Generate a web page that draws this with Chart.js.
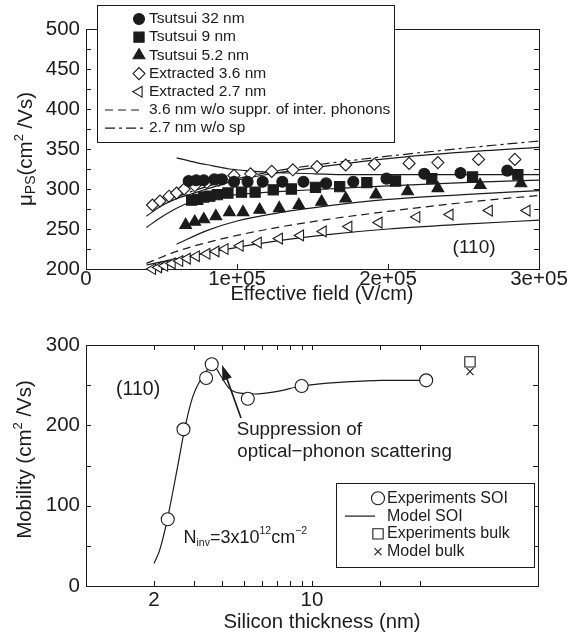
<!DOCTYPE html>
<html>
<head>
<meta charset="utf-8">
<title>Mobility</title>
<script src="https://cdn.jsdelivr.net/npm/chart.js@4.4.1/dist/chart.umd.min.js"></script>
<style>
  html, body { margin: 0; padding: 0; background: #fff; }
  #page { position: relative; width: 569px; height: 636px; overflow: hidden; }
  canvas { position: absolute; left: 0; }
  #top { top: 0; }
  #bottom { top: 305px; }
</style>
</head>
<body>
<div id="page">
  <canvas id="top" width="569" height="305"></canvas>
  <canvas id="bottom" width="569" height="331"></canvas>
</div>
<script>
// --- TOP PANEL DATA (field in 1e3 V/cm, mobility in cm2/Vs) ---
const fieldLabels = [0, 100, 200, 300];
const fieldMinor = [100, 200];
const muLabels = [200, 250, 300, 350, 400, 450, 500];
const muMinor = [225, 250, 275, 300, 325, 350, 375, 400, 425, 450, 475];

const ts32X = [68, 73, 78, 85, 90, 98, 107, 117, 130, 144, 159, 177, 199, 224, 248, 279];
const ts32Y = [310, 311, 311, 312, 312, 309, 309, 309, 309, 309, 307, 309, 313, 319, 320, 323];
const ts9X = [70, 74, 78, 82, 87, 94, 103, 112, 124, 136, 152, 168, 186, 205, 229, 256, 286];
const ts9Y = [286, 287, 290, 291, 293, 295, 296, 296, 299, 300, 302, 303, 308, 310, 313, 315, 318];
const ts52X = [66, 72, 78, 86, 95, 104, 115, 128, 141, 156, 172, 192, 213, 233, 261, 288];
const ts52Y = [255, 259, 262, 266, 271, 271, 274, 276, 280, 284, 288, 293, 297, 301, 305, 307];
const ex36X = [44, 49, 55, 60, 65, 72, 80, 88, 98, 109, 123, 137, 153, 172, 191, 214, 233, 260, 284];
const ex36Y = [280, 285, 291, 295, 300, 304, 308, 311, 317, 319, 322, 324, 328, 330, 331, 332, 333, 337, 337];
const ex27X = [44, 48, 52, 57, 62, 67, 73, 80, 86, 92, 102, 114, 128, 142, 157, 174, 194, 219, 241, 267, 292];
const ex27Y = [200, 202, 204, 207, 210, 213, 216, 219, 222, 225, 229, 233, 238, 242, 247, 253, 258, 265, 268, 273, 273];

// model curves
const m32X = [60, 73, 84, 95, 106, 120, 133, 151, 173, 217, 261, 300];
const m32Y = [339, 333, 329, 325, 323, 321, 320, 319, 318, 318, 318, 318];
const m9X = [40, 50, 60, 70, 80, 100, 130, 160, 200, 250, 300];
const m9Y = [252, 265, 276, 284, 288, 293, 297, 300, 304, 308, 311];
const m52X = [60, 80, 100, 130, 160, 200, 250, 300];
const m52Y = [231, 248, 260, 271, 279, 287, 293, 298];
const m36X = [40, 50, 60, 70, 80, 100, 130, 160, 200, 250, 300];
const m36Y = [266, 279, 288, 294, 300, 311, 321, 329, 338, 346, 352];
const m27X = [40, 60, 80, 100, 130, 160, 200, 250, 300];
const m27Y = [205, 213, 220, 227, 236, 243, 250, 256, 261];
const noSup36X = [40, 60, 80, 100, 130, 160, 200, 250, 300];
const noSup36Y = [207, 222, 233, 242, 253, 262, 272, 283, 292];
const noSp27X = [60, 70, 80, 100, 130, 160, 200, 250, 300];
const noSp27Y = [290, 297, 303, 313, 324, 332, 341, 351, 360];

// --- BOTTOM PANEL DATA (thickness in nm) ---
const thkLabels = [2, 10];
const thkMinor = [2, 3, 4, 5, 6, 7, 8, 9, 10, 20, 30];
const mobLabels = [0, 100, 200, 300];
const mobMinor = [50, 100, 150, 200, 250];

const soiThk = [2.3, 2.7, 3.4, 3.6, 5.2, 9, 32];
const soiMob = [83, 195, 259, 276, 233, 249, 256];
const modelThk = [2.0, 2.12, 2.29, 2.56, 2.73, 2.97, 3.25, 3.5, 3.7, 3.92, 4.3, 4.8, 5.57, 6.95, 9, 14.1, 20.4, 32.4];
const modelMob = [28, 45, 83, 153, 195, 236, 259, 271, 273, 263, 246, 240, 239, 242, 249, 254, 256, 256];
const bulkThk = [50];
const bulkExp = [279];
const bulkModel = [267];
const arrowTail = [4.85, 209];
const arrowHead = [4.0, 275];

// --- STYLE ---
const INK = '#1b1b1b';
const FONT = '"Liberation Sans", Arial, sans-serif';

function pts(xs, ys, k) { return xs.map((x, i) => ({ x: x * k, y: ys[i] })); }

function markerSet(label, xs, ys, k, style, r, filled, rot) {
    return {
        label, data: pts(xs, ys, k), showLine: false, clip: false,
        pointStyle: style, pointRadius: r, pointHoverRadius: r, pointRotation: rot || 0,
        pointBackgroundColor: filled ? INK : '#fff', pointBorderColor: INK, pointBorderWidth: 1.1
    };
}

function curveSet(label, xs, ys, k, dash) {
    return {
        label, data: pts(xs, ys, k), showLine: true, pointRadius: 0, pointHoverRadius: 0,
        borderColor: INK, borderWidth: 1.2, borderDash: dash || [], cubicInterpolationMode: 'monotone', fill: false
    };
}

function fmtExp(v) {
    const e = Math.round(Math.log10(v));
    return (v / Math.pow(10, e)) + 'e+' + String(e).padStart(2, '0');
}

// text with sub/superscripts: parts = [text, size, dy]
function drawRich(ctx, x, y, parts, align) {
    let total = 0;
    parts.forEach(p => { ctx.font = p[1] + 'px ' + FONT; total += ctx.measureText(p[0]).width; });
    let cx = align === 'center' ? x - total / 2 : x;
    ctx.textAlign = 'left';
    ctx.textBaseline = 'middle';
    parts.forEach(p => {
        ctx.font = p[1] + 'px ' + FONT;
        ctx.fillText(p[0], cx, y + (p[2] || 0));
        cx += ctx.measureText(p[0]).width;
    });
}

// frame + inward ticks on all four sides
function framePlugin(xMinor, yMinor) {
    return {
        id: 'frame',
        beforeDatasetsDraw(chart) {
            const { ctx, chartArea: a, scales } = chart;
            ctx.save();
            ctx.strokeStyle = INK;
            ctx.lineWidth = 1;
            ctx.strokeRect(a.left + 0.5, a.top + 0.5, a.right - a.left, a.bottom - a.top);
            ctx.beginPath();
            xMinor.forEach(v => {
                const px = Math.round(scales.x.getPixelForValue(v)) + 0.5;
                ctx.moveTo(px, a.bottom); ctx.lineTo(px, a.bottom - 5);
                ctx.moveTo(px, a.top); ctx.lineTo(px, a.top + 5);
            });
            yMinor.forEach(v => {
                const py = Math.round(scales.y.getPixelForValue(v)) + 0.5;
                ctx.moveTo(a.left, py); ctx.lineTo(a.left + 5, py);
                ctx.moveTo(a.right, py); ctx.lineTo(a.right - 5, py);
            });
            ctx.stroke();
            ctx.restore();
        }
    };
}

function drawLegend(ctx, chart, lg) {
    ctx.save();
    ctx.fillStyle = '#fff';
    ctx.strokeStyle = INK;
    ctx.lineWidth = 1;
    ctx.fillRect(lg.box[0], lg.box[1], lg.box[2] - lg.box[0], lg.box[3] - lg.box[1]);
    ctx.strokeRect(lg.box[0] + 0.5, lg.box[1] + 0.5, lg.box[2] - lg.box[0], lg.box[3] - lg.box[1]);
    lg.items.forEach((name, i) => {
        const ds = chart.data.datasets.find(d => d.label === name);
        const y = lg.y0 + i * lg.gap;
        if (ds.showLine) {
            ctx.save();
            ctx.strokeStyle = INK;
            ctx.lineWidth = 1.2;
            ctx.setLineDash(ds.borderDash);
            ctx.beginPath();
            ctx.moveTo(lg.line[0], y); ctx.lineTo(lg.line[1], y);
            ctx.stroke();
            ctx.restore();
        } else {
            ctx.save();
            ctx.fillStyle = ds.pointBackgroundColor;
            ctx.strokeStyle = ds.pointBorderColor;
            ctx.lineWidth = ds.pointBorderWidth;
            Chart.helpers.drawPoint(ctx, {
                pointStyle: ds.pointStyle, radius: ds.pointRadius,
                rotation: ds.pointRotation, borderWidth: ds.pointBorderWidth
            }, lg.markX, y);
            ctx.restore();
        }
        ctx.fillStyle = INK;
        drawRich(ctx, lg.textX, y, [[name, lg.size]], 'left');
    });
    ctx.restore();
}

const common = {
    responsive: false,
    animation: false,
    events: []
};

// --- TOP CHART ---
const topDatasets = [
    markerSet('Tsutsui 32 nm', ts32X, ts32Y, 1000, 'circle', 5.5, true),
    markerSet('Tsutsui 9 nm', ts9X, ts9Y, 1000, 'rect', 7.2, true),
    markerSet('Tsutsui 5.2 nm', ts52X, ts52Y, 1000, 'triangle', 6.8, true),
    markerSet('Extracted 3.6 nm', ex36X, ex36Y, 1000, 'rectRot', 6, false),
    markerSet('Extracted 2.7 nm', ex27X, ex27Y, 1000, 'triangle', 6.2, false, -90),
    curveSet('3.6 nm w/o suppr. of inter. phonons', noSup36X, noSup36Y, 1000, [8, 5]),
    curveSet('2.7 nm w/o sp', noSp27X, noSp27Y, 1000, [10, 4, 3, 4]),
    curveSet('model 32', m32X, m32Y, 1000),
    curveSet('model 9', m9X, m9Y, 1000),
    curveSet('model 5.2', m52X, m52Y, 1000),
    curveSet('model 3.6', m36X, m36Y, 1000),
    curveSet('model 2.7', m27X, m27Y, 1000)
];

const topNotes = {
    id: 'notes',
    afterDraw(chart) {
        const { ctx, chartArea: a, scales } = chart;
        ctx.save();
        ctx.fillStyle = INK;
        // y title
        ctx.save();
        ctx.translate(26, (a.top + a.bottom) / 2);
        ctx.rotate(-Math.PI / 2);
        drawRich(ctx, 0, 0, [['\u03bc', 20.5], ['PS', 14, 5], ['(cm', 20.5], ['2', 13, -7], [' /Vs)', 20.5]], 'center');
        ctx.restore();
        // x title
        drawRich(ctx, 322, 294, [['Effective field (V/cm)', 20]], 'center');
        drawRich(ctx, scales.x.getPixelForValue(257000), scales.y.getPixelForValue(226), [['(110)', 19]], 'center');
        drawLegend(ctx, chart, {
            box: [97, 5, 394, 142], y0: 19, gap: 18.2, markX: 139, textX: 149, line: [105, 144], size: 15.5,
            items: ['Tsutsui 32 nm', 'Tsutsui 9 nm', 'Tsutsui 5.2 nm', 'Extracted 3.6 nm', 'Extracted 2.7 nm',
                '3.6 nm w/o suppr. of inter. phonons', '2.7 nm w/o sp']
        });
        ctx.restore();
    }
};

new Chart(document.getElementById('top'), {
    type: 'scatter',
    data: { datasets: topDatasets },
    options: {
        ...common,
        layout: { padding: { left: 0, right: 30, top: 29, bottom: 0 } },
        plugins: { legend: { display: false }, tooltip: { enabled: false } },
        scales: {
            x: {
                type: 'linear', min: 0, max: 300000,
                afterBuildTicks: s => { s.ticks = fieldLabels.map(v => ({ value: v * 1000 })); },
                afterFit: s => { s.height = 36; },
                grid: { display: false, drawTicks: false }, border: { display: false },
                ticks: { padding: -2, color: INK, autoSkip: false, maxRotation: 0, font: { family: FONT, size: 20.5 },
                    callback: v => v === 0 ? '0' : fmtExp(v) }
            },
            y: {
                type: 'linear', min: 200, max: 500,
                afterBuildTicks: s => { s.ticks = muLabels.map(v => ({ value: v })); },
                afterFit: s => { s.width = 86; },
                grid: { display: false, drawTicks: false }, border: { display: false },
                ticks: { padding: 6, color: INK, font: { family: FONT, size: 20.5 } }
            }
        }
    },
    plugins: [framePlugin(fieldMinor.map(v => v * 1000), muMinor), topNotes]
});

// --- BOTTOM CHART ---
const bottomDatasets = [
    markerSet('Experiments SOI', soiThk, soiMob, 1, 'circle', 6.5, false),
    markerSet('Experiments bulk', bulkThk, bulkExp, 1, 'rect', 7.3, false),
    markerSet('Model bulk', bulkThk, bulkModel, 1, 'crossRot', 5, false),
    curveSet('Model SOI', modelThk, modelMob, 1)
];

const bottomNotes = {
    id: 'notes',
    afterDraw(chart) {
        const { ctx, chartArea: a, scales } = chart;
        const X = v => scales.x.getPixelForValue(v);
        const Y = v => scales.y.getPixelForValue(v);
        ctx.save();
        ctx.fillStyle = INK;
        ctx.strokeStyle = INK;
        // y title
        ctx.save();
        ctx.translate(25, (a.top + a.bottom) / 2 - 6);
        ctx.rotate(-Math.PI / 2);
        drawRich(ctx, 0, 0, [['Mobility (cm', 20.5], ['2', 13, -7], [' /Vs)', 20.5]], 'center');
        ctx.restore();
        drawRich(ctx, 322, 317, [['Silicon thickness (nm)', 20.3]], 'center');
        drawRich(ctx, X(1.70), Y(244), [['(110)', 19.5]], 'center');
        drawRich(ctx, X(4.64), Y(194), [['Suppression of', 18.8]], 'left');
        drawRich(ctx, X(4.67), Y(167), [['optical\u2212phonon scattering', 18.8]], 'left');
        drawRich(ctx, X(2.70), Y(60), [['N', 18], ['inv', 10.5, 5], ['=3x10', 18], ['12', 10.5, -7], ['cm', 18], ['\u22122', 10.5, -7]], 'left');
        // arrow
        const x0 = X(arrowTail[0]), y0 = Y(arrowTail[1]);
        const x1 = X(arrowHead[0]), y1 = Y(arrowHead[1]);
        const ang = Math.atan2(y1 - y0, x1 - x0);
        ctx.lineWidth = 1.6;
        ctx.beginPath();
        ctx.moveTo(x0, y0);
        ctx.lineTo(x1 - 12 * Math.cos(ang), y1 - 12 * Math.sin(ang));
        ctx.stroke();
        ctx.beginPath();
        ctx.moveTo(x1, y1);
        ctx.lineTo(x1 - 15 * Math.cos(ang) + 5 * Math.sin(ang), y1 - 15 * Math.sin(ang) - 5 * Math.cos(ang));
        ctx.lineTo(x1 - 15 * Math.cos(ang) - 5 * Math.sin(ang), y1 - 15 * Math.sin(ang) + 5 * Math.cos(ang));
        ctx.closePath();
        ctx.fill();
        drawLegend(ctx, chart, {
            box: [336, 178, 534, 262], y0: 193.3, gap: 17.8, markX: 378, textX: 387, line: [345, 375], size: 16,
            items: ['Experiments SOI', 'Model SOI', 'Experiments bulk', 'Model bulk']
        });
        ctx.restore();
    }
};

new Chart(document.getElementById('bottom'), {
    type: 'scatter',
    data: { datasets: bottomDatasets },
    options: {
        ...common,
        layout: { padding: { left: 0, right: 31, top: 40, bottom: 0 } },
        plugins: { legend: { display: false }, tooltip: { enabled: false } },
        scales: {
            x: {
                type: 'logarithmic', min: 1, max: 100,
                afterBuildTicks: s => { s.ticks = thkLabels.map(v => ({ value: v })); },
                afterFit: s => { s.height = 50; },
                grid: { display: false, drawTicks: false }, border: { display: false },
                ticks: { padding: 2, color: INK, autoSkip: false, maxRotation: 0, font: { family: FONT, size: 20.5 },
                    callback: v => String(v) }
            },
            y: {
                type: 'linear', min: 0, max: 300,
                afterBuildTicks: s => { s.ticks = mobLabels.map(v => ({ value: v })); },
                afterFit: s => { s.width = 86; },
                grid: { display: false, drawTicks: false }, border: { display: false },
                ticks: { padding: 6, color: INK, font: { family: FONT, size: 20.5 } }
            }
        }
    },
    plugins: [framePlugin(thkMinor, mobMinor), bottomNotes]
});
</script>
</body>
</html>
